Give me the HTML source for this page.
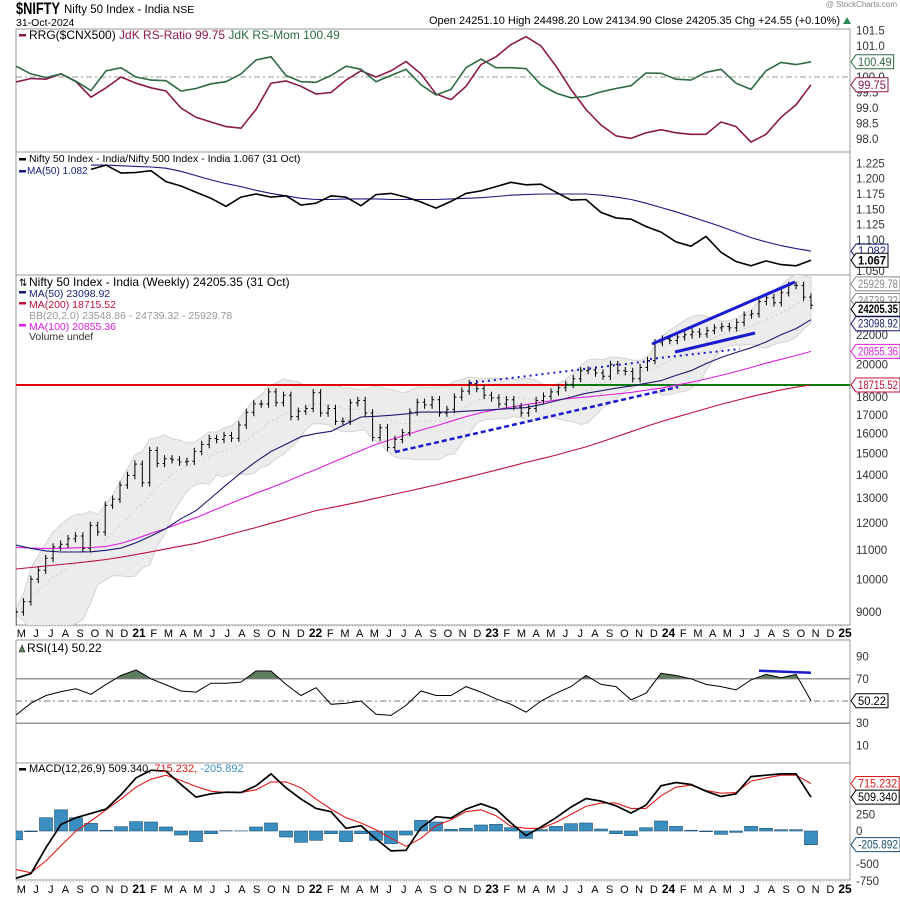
<!DOCTYPE html>
<html><head><meta charset="utf-8">
<style>
body{margin:0;background:#fff;}
svg{display:block;font-family:"Liberation Sans",sans-serif;}
</style></head>
<body>
<svg id="chart" width="900" height="900" viewBox="0 0 900 900" xmlns="http://www.w3.org/2000/svg">
<rect x="0" y="0" width="900" height="900" fill="#fff"/>
<text x="16" y="14" font-size="17" font-weight="bold" fill="#000" textLength="44" lengthAdjust="spacingAndGlyphs">$NIFTY</text>
<text x="64" y="13" font-size="11.5" fill="#000">Nifty 50 Index - India <tspan font-size="10.5">NSE</tspan></text>
<text x="16" y="26" font-size="10.5" fill="#000">31-Oct-2024</text>
<text x="897" y="7" font-size="8" fill="#888" text-anchor="end">@ StockCharts.com</text>
<text x="840" y="24" font-size="11" fill="#000" text-anchor="end">Open 24251.10  High 24498.20  Low 24134.90  Close 24205.35  Chg +24.55 (+0.10%)</text>
<path d="M843 24 L847 17 L851 24 Z" fill="#2e8b57"/>
<g id="g"></g>
</svg>
<script>
// ---------- DATA ----------
const monthLabels = ["M","J","J","A","S","O","N","D","21","F","M","A","M","J","J","A","S","O","N","D","22","F","M","A","M","J","J","A","S","O","N","D","23","F","M","A","M","J","J","A","S","O","N","D","24","F","M","A","M","J","J","A","S","O","N","D","25"];
const rsRatio = [99.84,99.95,99.93,100.1,99.85,99.35,99.65,100.0,99.8,99.65,99.55,99.0,98.7,98.55,98.4,98.35,98.95,99.8,99.87,99.7,99.45,99.5,99.9,100.2,100.0,100.2,100.5,100.1,99.45,99.27,99.7,100.4,100.65,101.05,101.3,101.0,100.35,99.6,98.95,98.45,98.1,98.02,98.2,98.3,98.2,98.15,98.15,98.55,98.4,97.9,98.15,98.7,99.1,99.75];
const rsMom = [100.35,100.1,99.98,100.1,99.86,99.56,100.2,100.3,100.0,99.9,99.88,99.55,99.63,99.78,99.85,100.1,100.55,100.65,100.05,99.85,99.83,100.05,100.35,100.25,99.85,100.05,100.25,99.75,99.42,99.6,100.3,100.58,100.3,100.3,100.27,99.75,99.48,99.33,99.37,99.52,99.63,99.72,100.13,100.12,99.93,99.9,100.15,100.25,99.8,99.6,100.2,100.47,100.4,100.49];
const rrgTicks = [101.5,101.0,100.0,99.5,99.0,98.5,98.0];
const ratio = [1.215,1.222,1.209,1.21,1.213,1.195,1.188,1.178,1.168,1.155,1.17,1.175,1.17,1.172,1.157,1.16,1.172,1.17,1.156,1.174,1.176,1.17,1.162,1.152,1.163,1.176,1.18,1.187,1.194,1.19,1.191,1.178,1.165,1.166,1.145,1.136,1.134,1.122,1.113,1.097,1.09,1.106,1.08,1.065,1.058,1.066,1.06,1.058,1.067];
const ratioMA = [1.222,1.222,1.221,1.22,1.219,1.217,1.212,1.205,1.198,1.192,1.187,1.181,1.176,1.172,1.168,1.166,1.166,1.167,1.167,1.167,1.166,1.166,1.166,1.166,1.167,1.168,1.169,1.171,1.173,1.174,1.175,1.175,1.175,1.175,1.173,1.17,1.166,1.16,1.153,1.146,1.138,1.13,1.122,1.113,1.104,1.097,1.091,1.086,1.082];
const ratioTicks = [1.225,1.2,1.175,1.15,1.125,1.1,1.05];
const closes = [9000,9300,10000,10300,10700,11100,11200,11400,11500,11050,11900,11650,12700,12950,13550,13980,
14500,13650,15150,14530,14750,14700,14600,14630,15100,15450,15750,15700,15900,15760,16450,17130,17600,17600,18300,17670,18100,16900,17200,17350,
18250,17100,17350,16650,16650,17670,17800,17100,15800,16300,15300,15700,16050,17150,17700,17550,17850,17100,17300,18000,18350,18800,18500,18100,
17950,17600,17850,17450,17100,17350,17800,18050,18300,18550,18750,19100,19600,19650,19450,19250,20000,19600,19550,19100,19800,20250,21450,21700,
21600,21850,22000,22200,22050,22300,22500,22600,22500,22900,23450,23550,24500,24800,24400,25200,25800,25800,24850,24205];
const ma50 = [11170,11050,10960,10920,10920,10930,10980,11060,11250,11500,11780,12160,12480,13000,13550,14100,14620,15100,15460,15840,16000,16120,16500,16880,16920,16970,17050,17150,17150,17150,17200,17250,17300,17340,17400,17570,17780,18000,18220,18370,18520,18650,18820,18980,19300,19600,20050,20450,20780,21100,21500,22000,22450,23099];
const ma100 = [11080,11060,11050,11050,11070,11080,11120,11230,11400,11600,11780,12000,12200,12450,12700,12950,13200,13440,13700,13980,14250,14550,14850,15150,15450,15700,15930,16180,16400,16650,16900,17120,17280,17430,17570,17700,17830,17930,18000,18090,18180,18270,18400,18520,18700,18880,19080,19300,19540,19800,20080,20330,20580,20855];
const ma200 = [10340,10390,10440,10490,10540,10600,10660,10740,10830,10930,11030,11130,11230,11370,11520,11670,11820,11980,12140,12310,12480,12600,12720,12850,12990,13130,13270,13410,13560,13720,13880,14050,14220,14400,14580,14750,14930,15130,15330,15570,15830,16100,16370,16630,16870,17100,17340,17580,17800,18020,18220,18420,18580,18715];
const priceTicks = [22000,20000,18000,17000,16000,15000,14000,13000,12000,11000,10000,9000];
const rsi = [37.4,48,55,58.5,61,56,65,73,78,70,64.5,59,58,66,66,67,77,77,65,55,62,47,48,50,38,37,46,59,55,55,63,58,52,47,40,50,57,63,73,65,63,51,57,75,73,70,65,63,60,69,74,71,74,50.22];
const rsiTicks = [90,70,30,10];
const macd = [-713,-640,-250,100,200,265,330,545,800,915,900,700,510,560,585,580,680,860,650,480,340,290,40,80,-120,-300,-290,50,215,195,330,410,330,120,-70,60,200,360,490,450,380,270,390,680,730,700,600,520,560,820,840,860,860,509];
const signal = [-580,-630,-450,-220,0,150,320,480,660,780,840,760,670,600,580,578,620,740,740,650,480,330,200,120,20,-110,-230,-110,80,170,290,320,230,70,40,40,130,250,370,420,420,340,340,530,660,690,610,570,580,750,800,840,840,715];
const macdTicks = [250,0,-500,-750];

// ---------- SCALES ----------
const L=16,R=850;
const xM = m => 16 + m*15;
const xS = i => 16 + i*795/(closes.length-1);
const yRRG = v => 77 - (v-100)*31;
const yRat = v => 163.3 + (1.225-v)*614;
const yP = p => 612 - 714*Math.log10(p/9000);
const yRSI = v => 701 - (v-50)*1.11;
const yMACD = v => 831 - v*0.0664;
const NS="http://www.w3.org/2000/svg";
const G=document.getElementById('g');
function el(tag,attrs,parent){const e=document.createElementNS(NS,tag);for(const k in attrs)e.setAttribute(k,attrs[k]);(parent||G).appendChild(e);return e;}
function txt(x,y,s,attrs,parent){const t=el('text',Object.assign({x:x,y:y,'font-size':11},attrs),parent);t.textContent=s;return t;}
function pathFrom(arr,xf,yf,off){return arr.map((v,i)=>(i?'L':'M')+xf(i+(off||0)).toFixed(1)+' '+yf(v).toFixed(1)).join(' ');}
function clip(id,y0,y1){const c=el('clipPath',{id:id});el('rect',{x:L,y:y0,width:R-L,height:y1-y0},c);}
function frame(y0,y1,name){const r=el('rect',{x:L,y:y0,width:R-L,height:y1-y0,fill:'none',stroke:'#999','stroke-width':1});}
function tag(y,s,color,bold,name){const g=el('g',{});
 const w=Math.min(s.length*5.6+4,44);el('path',{d:`M${R+1} ${y} L${R+6} ${y-7} L${R+6+w} ${y-7} L${R+6+w} ${y+7} L${R+6} ${y+7} Z`,fill:'#fff',stroke:color,'stroke-width':1},g);
 txt(R+8,y+4,s,{fill:bold?'#000':color,'font-weight':bold?'bold':'normal','font-size':11.5,textLength:w-4,lengthAdjust:'spacingAndGlyphs'},g);}
function tick(y,s,name){const t=txt(R+6,y+4,s,{fill:'#333','font-size':11.5});}

// ---------- PANEL 1 RRG ----------
clip('c1',29,152);clip('c2',152,275);clip('c3',275,625);clip('c4',640,763);clip('c5',763,880);
frame(29,152,'rrg-panel');
let dl=el('line',{x1:L,x2:R,y1:yRRG(100),y2:yRRG(100),stroke:'#999','stroke-dasharray':'6,3,2,3'});

let p=el('path',{d:pathFrom(rsRatio,xM,yRRG),fill:'none',stroke:'#8b1a4a','stroke-width':1.6,'clip-path':'url(#c1)'});

p=el('path',{d:pathFrom(rsMom,xM,yRRG),fill:'none',stroke:'#2d6a43','stroke-width':1.6,'clip-path':'url(#c1)'});

el('rect',{x:19,y:34,width:7,height:2.5,fill:'#8b1a4a'});
let t=txt(29,39,'RRG($CNX500) ',{fill:'#000','font-size':12});
let ts=el('tspan',{fill:'#8b1a4a'},t);ts.textContent='JdK RS-Ratio 99.75 ';
ts=el('tspan',{fill:'#2d6a43'},t);ts.textContent='JdK RS-Mom 100.49';
rrgTicks.forEach(v=>tick(yRRG(v),v.toFixed(1),'rrg-tick'));
tag(yRRG(100.49),'100.49','#2d6a43',false,'rs-mom-value-tag');
tag(yRRG(99.75),'99.75','#8b1a4a',false,'rs-ratio-value-tag');

// ---------- PANEL 2 RATIO ----------
frame(152,275,'ratio-panel');
p=el('path',{d:pathFrom(ratioMA,xM,yRat,5),fill:'none',stroke:'#1a1a80','stroke-width':1.1,'clip-path':'url(#c2)'});

p=el('path',{d:pathFrom(ratio,xM,yRat,5),fill:'none',stroke:'#000','stroke-width':1.6,'clip-path':'url(#c2)'});

el('rect',{x:19,y:158,width:7,height:2.5,fill:'#000'});
t=txt(29,162,'Nifty 50 Index - India/Nifty 500 Index - India 1.067 (31 Oct)',{fill:'#000','font-size':10.5});
el('rect',{x:19,y:170,width:7,height:2.5,fill:'#1a1a80'});
t=txt(27,174,'MA(50) 1.082',{fill:'#1a1a80','font-size':10});
ratioTicks.forEach(v=>tick(yRat(v),v.toFixed(3),'ratio-tick'));
tag(yRat(1.082),'1.082','#1a1a80',false,'ratio-ma-tag');
tag(yRat(1.067),'1.067','#000',true,'ratio-value-tag');

// ---------- PANEL 3 PRICE ----------
frame(275,625,'price-panel');
const up=[],lo=[],mid=[];
closes.forEach((c,i)=>{const w=closes.slice(Math.max(0,i-9),i+1);const m=w.reduce((a,b)=>a+b,0)/w.length;
 const sd=Math.sqrt(w.reduce((a,b)=>a+(b-m)*(b-m),0)/w.length);up.push(m+2*sd+c*0.01);lo.push(m-2*sd-c*0.01);mid.push(m);});
let bd=up.map((v,i)=>(i?'L':'M')+xS(i).toFixed(1)+' '+yP(v).toFixed(1)).join(' ')+' '+lo.map((v,i)=>'L'+xS(lo.length-1-i).toFixed(1)+' '+yP(lo[lo.length-1-i]).toFixed(1)).join(' ')+' Z';
p=el('path',{d:bd,fill:'#ececec',stroke:'#d4d4d4','stroke-width':1,'clip-path':'url(#c3)'});

p=el('path',{d:pathFrom(mid,xS,yP),fill:'none',stroke:'#ccc','stroke-width':1,'stroke-dasharray':'2,3','clip-path':'url(#c3)'});

let hl=el('line',{x1:L,x2:565,y1:yP(18715.52),y2:yP(18715.52),stroke:'#e00000','stroke-width':2});

hl=el('line',{x1:565,x2:R,y1:yP(18715.52),y2:yP(18715.52),stroke:'#0a7a0a','stroke-width':2});

p=el('path',{d:pathFrom(ma200,xM,yP),fill:'none',stroke:'#c0103a','stroke-width':1.1,'clip-path':'url(#c3)'});

p=el('path',{d:pathFrom(ma100,xM,yP),fill:'none',stroke:'#e020e0','stroke-width':1.1,'clip-path':'url(#c3)'});

p=el('path',{d:pathFrom(ma50,xM,yP),fill:'none',stroke:'#1a1a70','stroke-width':1.1,'clip-path':'url(#c3)'});

const bars=el('g',{stroke:'#000','stroke-width':1,'clip-path':'url(#c3)'});

closes.forEach((c,i)=>{const pr=i?closes[i-1]:c*0.97;const hi=Math.max(c,pr)*1.012,lw=Math.min(c,pr)*0.988;const x=xS(i);
 const b=el('path',{d:`M${x.toFixed(1)} ${yP(hi).toFixed(1)} V${yP(lw).toFixed(1)} M${(x-2).toFixed(1)} ${yP(pr).toFixed(1)} H${x.toFixed(1)} M${x.toFixed(1)} ${yP(c).toFixed(1)} H${(x+2).toFixed(1)}`},bars);
 });
const ann=[[652,344,795,282,'3',''],[675,352,755,333,'3',''],[470,383,650,361,'2','2,4'],[650,359,740,349,'2','2,4'],[395,452,678,387,'2.5','5,3']];
ann.forEach(a=>{const l=el('line',{x1:a[0],y1:a[1],x2:a[2],y2:a[3],stroke:'#1a1ad0','stroke-width':a[4],'stroke-dasharray':a[5]||'none'});});
const leg=[["Nifty 50 Index - India (Weekly) 24205.35 (31 Oct)",'#000',285,12],["MA(50) 23098.92",'#1a1a70',296,10.5],["MA(200) 18715.52",'#c0103a',307,10.5],["BB(20,2.0) 23548.86 - 24739.32 - 25929.78",'#999',318,10.5],["MA(100) 20855.36",'#e020e0',329,10.5],["Volume undef",'#333',339,10.5]];
leg.forEach((l,i)=>{if(i>0&&i!==3&&i!==5)el('rect',{x:19,y:l[2]-5,width:7,height:2.5,fill:l[1]});
 const tt=txt(29,l[2]+1,l[0],{fill:l[1],'font-size':l[3]});});
txt(19,286,'⇅',{'font-size':10,fill:'#000'});
priceTicks.forEach(v=>tick(yP(v),String(v),'price-tick'));
tag(yP(25929.78),'25929.78','#888',false,'bb-upper-tag');
tag(yP(24739.32)+2,'24739.32','#888',false,'bb-mid-tag');
tag(yP(24205.35)+4,'24205.35','#000',true,'close-tag');
tag(yP(23098.92)+4,'23098.92','#1a1a70',false,'ma50-tag');
tag(yP(20855.36),'20855.36','#e020e0',false,'ma100-tag');
tag(yP(18715.52),'18715.52','#c0103a',false,'ma200-tag');

// ---------- X AXES ----------
function xAxis(y,name){const g=el('g',{});
 el('line',{x1:L,x2:R,y1:y-9,y2:y-9,stroke:'#bbb','stroke-dasharray':'1,2'},g);
 monthLabels.forEach((s,k)=>{const x=-42.5+(4+k)/12*176.5;const yr=s.length===2;
  txt(x+5,y+2,s,{'text-anchor':'middle','font-size':yr?12:11,'font-weight':yr?'bold':'normal',fill:'#000'},g);});}
xAxis(635,'x-axis-top');xAxis(891,'x-axis-bottom');

// ---------- RSI ----------
frame(640,763,'rsi-panel');
let fd='';
for(let i=0;i<rsi.length-1;i++){const a=rsi[i],b=rsi[i+1];if(a<=70&&b<=70)continue;
 const x0=xM(i),x1=xM(i+1);let sa=x0,sb=x1,va=a,vb=b;
 if(a<70){sa=x0+(70-a)/(b-a)*15;va=70;} if(b<70){sb=x0+(70-a)/(b-a)*15;vb=70;}
 fd+=`M${sa.toFixed(1)} ${yRSI(70)} L${sa.toFixed(1)} ${yRSI(va).toFixed(1)} L${sb.toFixed(1)} ${yRSI(vb).toFixed(1)} L${sb.toFixed(1)} ${yRSI(70)} Z `;}
p=el('path',{d:fd,fill:'#5f7d5f',stroke:'none'});
[70,30].forEach(v=>{const l=el('line',{x1:L,x2:R,y1:yRSI(v),y2:yRSI(v),stroke:'#777','stroke-width':1.2});});
dl=el('line',{x1:L,x2:R,y1:yRSI(50),y2:yRSI(50),stroke:'#777','stroke-dasharray':'6,3,2,3'});
p=el('path',{d:pathFrom(rsi,xM,yRSI),fill:'none',stroke:'#000','stroke-width':1,'clip-path':'url(#c4)'});

let rl=el('line',{x1:759,y1:670.7,x2:811,y2:672.7,stroke:'#1a1ad0','stroke-width':2.5});
el('path',{d:'M19 652 L22 645 L25 652 Z',fill:'#5f7d5f',stroke:'#333','stroke-width':0.6});
t=txt(27,652,'RSI(14) 50.22',{fill:'#000','font-size':12});
rsiTicks.forEach(v=>tick(yRSI(v),String(v),'rsi-tick'));
tag(yRSI(50.22),'50.22','#000',false,'rsi-value-tag');

// ---------- MACD ----------
frame(763,880,'macd-panel');
const hg=el('g',{'clip-path':'url(#c5)'});
macd.forEach((v,i)=>{const h=v-signal[i];const y0=yMACD(0),y1=yMACD(h);
 const r=el('rect',{x:(xM(i)-6.5).toFixed(1),y:Math.min(y0,y1).toFixed(1),width:13,height:Math.abs(y1-y0).toFixed(1),fill:'#3a8fc0',stroke:'#1d4f70','stroke-width':0.6},hg);
 });
p=el('path',{d:pathFrom(signal,xM,yMACD),fill:'none',stroke:'#e01818','stroke-width':1.1,'clip-path':'url(#c5)'});

p=el('path',{d:pathFrom(macd,xM,yMACD),fill:'none',stroke:'#000','stroke-width':1.7,'clip-path':'url(#c5)'});

el('rect',{x:19,y:768,width:7,height:2.5,fill:'#000'});
t=txt(29,772,'MACD(12,26,9) 509.340, ',{fill:'#000','font-size':11});
ts=el('tspan',{fill:'#e01818'},t);ts.textContent='715.232, ';
ts=el('tspan',{fill:'#3a8fc0'},t);ts.textContent='-205.892';
macdTicks.forEach(v=>tick(yMACD(v),String(v),'macd-tick'));
tag(yMACD(715.232),'715.232','#e01818',false,'macd-signal-tag');
tag(yMACD(509.34),'509.340','#000',false,'macd-value-tag');
tag(yMACD(-205.892),'-205.892','#1d4f70',false,'macd-hist-tag');
</script>
</body></html>
